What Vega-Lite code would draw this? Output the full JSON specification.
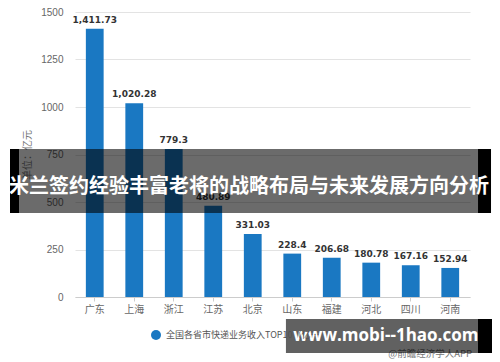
{
  "$schema": "https://vega.github.io/schema/vega-lite/v6.json",
  "width": 395,
  "height": 285,
  "autosize": "none",
  "padding": {"left": 75, "top": 12, "right": 30, "bottom": 65},
  "background": "#ffffff",
  "config": {
    "font": "Noto Sans CJK SC",
    "view": {"stroke": null}
  },
  "data": {
    "values": [
      {"province": "广东", "value": 1411.73, "series": "全国各省市快递业务收入TOP10（亿元）"},
      {"province": "上海", "value": 1020.28, "series": "全国各省市快递业务收入TOP10（亿元）"},
      {"province": "浙江", "value": 779.3, "series": "全国各省市快递业务收入TOP10（亿元）"},
      {"province": "江苏", "value": 480.89, "series": "全国各省市快递业务收入TOP10（亿元）"},
      {"province": "北京", "value": 331.03, "series": "全国各省市快递业务收入TOP10（亿元）"},
      {"province": "山东", "value": 228.4, "series": "全国各省市快递业务收入TOP10（亿元）"},
      {"province": "福建", "value": 206.68, "series": "全国各省市快递业务收入TOP10（亿元）"},
      {"province": "河北", "value": 180.78, "series": "全国各省市快递业务收入TOP10（亿元）"},
      {"province": "四川", "value": 167.16, "series": "全国各省市快递业务收入TOP10（亿元）"},
      {"province": "河南", "value": 152.94, "series": "全国各省市快递业务收入TOP10（亿元）"}
    ]
  },
  "layer": [
    {
      "encoding": {
        "x": {
          "field": "province", "type": "nominal", "sort": null,
          "scale": {"paddingInner": 0.55, "paddingOuter": 0.275},
          "axis": {
            "title": null, "labelAngle": 0, "labelFontSize": 10, "labelColor": "#666666",
            "domainColor": "#cccccc", "tickColor": "#cccccc", "tickSize": 4, "labelPadding": 3,
            "labelFont": "Noto Sans CJK SC"
          }
        },
        "y": {
          "field": "value", "type": "quantitative",
          "scale": {"domain": [0, 1500], "nice": false},
          "axis": {
            "values": [0, 250, 500, 750, 1000, 1250, 1500], "format": "d",
            "title": "单位：亿元", "titleColor": "#777777", "titleFontSize": 10, "titleFontWeight": "normal",
            "titlePadding": 8, "titleFont": "Noto Sans CJK SC",
            "labelFontSize": 10, "labelColor": "#666666", "labelFont": "Liberation Sans", "labelPadding": 12,
            "domain": false, "ticks": false, "gridColor": "#e3e3e3"
          }
        }
      },
      "layer": [
        {
          "mark": {"type": "bar"},
          "encoding": {
            "color": {
              "field": "series", "type": "nominal",
              "scale": {"range": ["#1a78c2"]},
              "legend": {
                "title": null, "orient": "none", "legendX": 75, "legendY": 317,
                "symbolType": "circle", "symbolSize": 100, "labelFontSize": 9,
                "labelColor": "#555555", "labelFont": "Noto Sans CJK SC"
              }
            }
          }
        },
        {
          "mark": {"type": "text", "baseline": "bottom", "dy": -4, "font": "DejaVu Sans", "fontWeight": "bold", "fontSize": 9, "color": "#333333"},
          "encoding": {
            "text": {"field": "value", "type": "quantitative", "format": ",.2~f"}
          }
        }
      ]
    },
    {
      "data": {
        "values": [
          {"kind": "banner", "label": "米兰签约经验丰富老将的战略布局与未来发展方向分析"}
        ]
      },
      "layer": [
        {
          "mark": {"type": "rect", "color": "#000000", "opacity": 1},
          "encoding": {
            "x": {"datum": -0.1646, "type": "quantitative", "scale": {"domain": [0, 1]}, "axis": null},
            "x2": {"datum": -0.1418},
            "y": {"datum": 778.9, "type": "quantitative", "scale": {"domain": [0, 1500], "nice": false, "zero": false}, "axis": null},
            "y2": {"datum": 442.1}
          }
        },
        {
          "mark": {"type": "rect", "color": "#000000", "opacity": 1},
          "encoding": {
            "x": {"datum": 1.0203, "type": "quantitative"},
            "x2": {"datum": 1.0532},
            "y": {"datum": 778.9, "type": "quantitative"},
            "y2": {"datum": 442.1}
          }
        },
        {
          "mark": {"type": "rect", "color": "#000000", "opacity": 0.58},
          "encoding": {
            "x": {"datum": -0.1418, "type": "quantitative"},
            "x2": {"datum": 1.0203},
            "y": {"datum": 778.9, "type": "quantitative"},
            "y2": {"datum": 442.1}
          }
        },
        {
          "mark": {"type": "text", "color": "#ffffff", "fontSize": 20, "fontWeight": "bold", "font": "Noto Sans CJK SC", "align": "center", "baseline": "middle"},
          "encoding": {
            "x": {"datum": 0.4405, "type": "quantitative"},
            "y": {"datum": 578.9, "type": "quantitative"},
            "text": {"field": "label"}
          }
        },
        {
          "mark": {"type": "text", "color": "#777777", "fontSize": 9.5, "font": "Noto Sans CJK SC", "align": "center", "baseline": "middle"},
          "encoding": {
            "x": {"datum": 0.899, "type": "quantitative"},
            "y": {"datum": -300, "type": "quantitative"},
            "text": {"value": "@前瞻经济学人APP"}
          }
        },
        {
          "mark": {"type": "rect", "color": "#000000", "opacity": 1},
          "encoding": {
            "x": {"datum": 1.0203, "type": "quantitative"},
            "x2": {"datum": 1.0557},
            "y": {"datum": -115.8, "type": "quantitative"},
            "y2": {"datum": -294.7}
          }
        },
        {
          "mark": {"type": "rect", "color": "#000000", "opacity": 0.62},
          "encoding": {
            "x": {"datum": 0.534, "type": "quantitative"},
            "x2": {"datum": 1.0203},
            "y": {"datum": -115.8, "type": "quantitative"},
            "y2": {"datum": -294.7}
          }
        },
        {
          "mark": {"type": "text", "color": "#ffffff", "fontSize": 17, "fontWeight": "bold", "font": "Open Sans", "align": "center", "baseline": "middle"},
          "encoding": {
            "x": {"datum": 0.787, "type": "quantitative"},
            "y": {"datum": -205.3, "type": "quantitative"},
            "text": {"value": "www.mobi--1hao.com"}
          }
        }
      ]
    }
  ],
  "resolve": {"scale": {"x": "independent", "y": "independent"}, "axis": {"x": "independent", "y": "independent"}}
}
